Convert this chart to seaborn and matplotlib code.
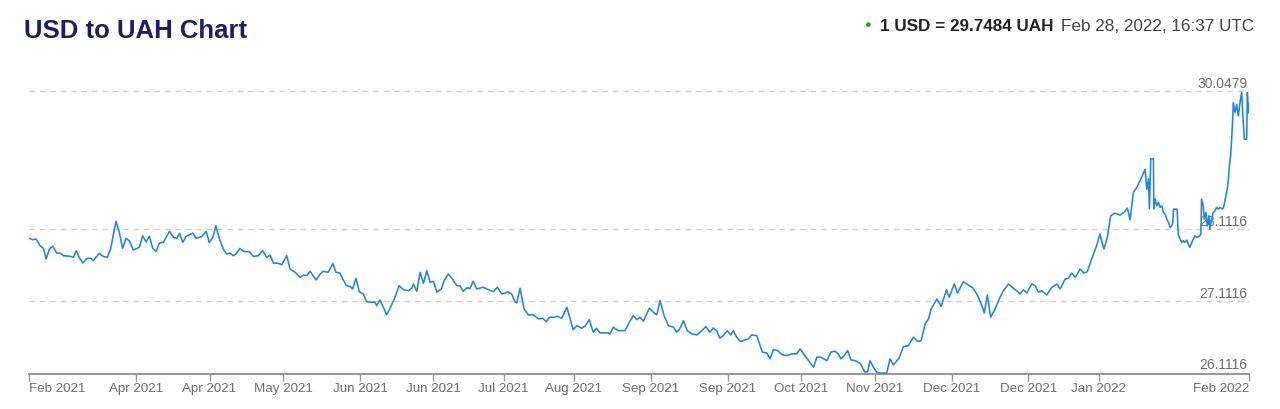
import pandas as pd
import matplotlib.pyplot as plt
import seaborn as sns

# USD -> UAH, one year of quotes (day offset from 2021-02-28, rate)
start = pd.Timestamp('2021-02-28')
days = [0.1, 1.1, 2.1, 3.3, 4.3, 5.1, 6.1, 7.1, 8.3, 9.3, 10.3, 12.3, 13.3, 14.1, 15.0, 16.1, 17.3, 18.5, 19.2,
        21.0, 22.2, 23.4, 24.4, 26.0, 27.0, 28.0, 29.0, 30.0, 31.2, 33.0, 34.0, 35.0, 36.0, 37.0, 38.0, 39.0,
        40.2, 42.0, 43.2, 44.2, 45.0, 46.0, 47.0, 49.0, 50.0, 51.7, 53.0, 53.9, 55.0, 55.9, 56.9, 58.1, 59.1,
        60.1, 61.1, 61.9, 63.1, 64.1, 65.9, 67.1, 68.6, 69.9, 71.1, 72.1,
        73.1, 74.6, 75.6, 77.1, 78.1, 79.6, 81.1, 82.1, 83.1, 84.1, 85.1, 85.9, 87.1, 88.0, 89.5, 90.9, 91.8,
        93.0, 94.0, 95.0, 96.0, 96.8, 97.8, 98.8, 100.0, 101.0, 102.5, 103.5, 104.0, 105.0, 106.0, 107.0,
        108.0, 109.3, 110.7, 112.0, 113.5, 114.5, 115.0, 116.0, 117.0, 118.0, 119.0, 120.0, 121.0, 122.0,
        123.3, 124.2, 125.4, 126.5, 128.0, 128.9, 129.9, 130.9, 131.9, 132.9, 133.9, 135.9, 137.4, 138.9,
        140.1, 141.4, 142.4, 143.2, 144.4, 145.4,
        145.9, 146.9, 148.1, 149.4, 150.9, 152.4, 153.7, 154.7, 155.7, 157.1, 157.9, 159.4, 160.9, 161.9,
        162.8, 163.9, 165.4, 166.3, 167.6, 168.8, 169.8, 170.8, 173.3, 173.8, 174.8, 176.3, 178.3, 179.6,
        180.8, 181.8, 182.8, 183.8, 185.6, 186.6, 187.8, 188.8, 190.0, 191.3, 192.8, 193.8, 194.8, 195.8,
        196.9, 198.3, 199.8, 201.3, 202.5, 203.7, 204.7, 205.7, 206.7, 207.7, 208.9, 209.9, 210.7, 211.7,
        212.9, 214.2, 215.2, 216.2, 217.7,
        219.4, 220.7, 221.7, 222.7, 224.0, 225.2, 226.7, 228.2, 229.7, 230.7, 231.7, 233.2, 234.7, 235.7,
        236.9, 238.7, 239.9, 241.1, 242.1, 242.9, 243.9, 244.9, 245.9, 247.1, 248.6, 250.1, 250.9, 251.6,
        252.6, 253.6, 254.6, 256.6, 257.6, 258.6, 260.3, 261.6, 263.1, 264.6, 265.9, 266.9, 268.1, 269.1,
        269.9, 271.6, 272.9, 274.5, 275.3, 276.8, 277.8, 279.5, 281.0, 282.5, 283.8, 285.0, 285.8, 286.7,
        287.7, 289.0, 290.5,
        291.5, 293.0, 294.5, 295.5, 296.5, 297.5, 298.5, 300.0, 301.0, 302.0, 303.0, 304.5, 306.0, 307.5,
        308.5, 310.0, 311.0, 312.0, 313.0, 314.5, 315.5, 316.6, 317.9, 319.4, 320.4, 321.6, 322.6, 323.6,
        324.9, 326.4, 327.6, 328.6, 329.4, 330.4, 331.4, 332.6, 333.9, 334.4, 334.9, 335.2, 335.6, 336.4,
        336.5, 336.9, 337.4, 337.9, 338.4, 338.9, 339.4, 339.9, 340.4, 340.9, 341.4, 341.9, 342.2, 342.4,
        343.5, 343.7, 343.8, 344.4, 344.9, 345.3, 345.8, 346.4, 346.8, 347.3, 347.9, 348.3, 348.8, 349.3,
        350.1, 350.6, 350.8, 351.3, 351.6, 352.1, 352.5, 353.0, 353.3, 353.8, 354.3, 354.8, 355.3, 355.8,
        356.3, 357.1, 357.5, 358.1, 358.5, 358.9, 359.1, 359.5, 359.8, 360.1, 360.3, 360.8, 361.3, 361.8,
        362.3, 362.8, 363.1, 363.6, 364.3, 364.5, 364.8, 364.95, 365.0]
rates = [27.986, 27.966, 27.976, 27.882, 27.846, 27.696, 27.836, 27.874, 27.780, 27.780, 27.742, 27.734, 27.720,
         27.812, 27.720, 27.640, 27.706, 27.706, 27.672, 27.776, 27.734, 27.720, 27.836, 28.224, 28.070, 27.846,
         27.986, 27.952, 27.822, 27.860, 28.022, 27.938, 28.014, 27.846, 27.804, 27.920, 27.930, 28.084, 28.000,
         27.986, 28.056, 27.930, 28.014, 28.060, 27.986, 28.014, 28.084, 27.930, 28.000, 28.162, 27.986, 27.836,
         27.766, 27.780, 27.742, 27.766, 27.846, 27.804, 27.798, 27.734, 27.742, 27.812, 27.720, 27.752,
         27.640, 27.636, 27.616, 27.742, 27.556, 27.510, 27.440, 27.472, 27.462, 27.524, 27.454, 27.402, 27.486,
         27.524, 27.510, 27.636, 27.510, 27.500, 27.402, 27.322, 27.314, 27.276, 27.426, 27.238, 27.206, 27.098,
         27.090, 27.090, 27.042, 27.122, 27.020, 26.916, 27.006, 27.136, 27.322, 27.266, 27.252, 27.286, 27.346,
         27.244, 27.510, 27.356, 27.532, 27.370, 27.384, 27.230, 27.276, 27.392, 27.486, 27.426, 27.322, 27.322,
         27.244, 27.290, 27.286, 27.384, 27.276, 27.300, 27.266, 27.238, 27.300, 27.206, 27.216, 27.238, 27.206,
         27.098,
         27.080, 27.286, 26.996, 26.912, 26.912, 26.856, 26.866, 26.818, 26.880, 26.880, 26.894, 26.866, 27.020,
         26.856, 26.706, 26.762, 26.726, 26.754, 26.846, 26.670, 26.726, 26.660, 26.660, 26.646, 26.740, 26.692,
         26.692, 26.810, 26.902, 26.846, 26.880, 26.824, 27.006, 26.958, 26.912, 27.112, 26.902, 26.762, 26.740,
         26.670, 26.726, 26.832, 26.692, 26.646, 26.632, 26.692, 26.748, 26.670, 26.730, 26.692, 26.586, 26.622,
         26.692, 26.632, 26.692, 26.600, 26.538, 26.562, 26.576, 26.632, 26.622,
         26.390, 26.380, 26.296, 26.426, 26.412, 26.356, 26.342, 26.366, 26.366, 26.436, 26.366, 26.272, 26.180,
         26.320, 26.320, 26.272, 26.390, 26.404, 26.366, 26.296, 26.342, 26.412, 26.282, 26.272, 26.236, 26.110,
         26.118, 26.272, 26.180, 26.110, 26.096, 26.096, 26.296, 26.212, 26.306, 26.468, 26.482, 26.600, 26.538,
         26.552, 26.786, 26.856, 26.996, 27.136, 27.034, 27.266, 27.160, 27.346, 27.220, 27.378, 27.332, 27.286,
         27.182, 27.052, 26.940, 27.192, 26.880, 26.996, 27.160,
         27.252, 27.346, 27.286, 27.252, 27.206, 27.266, 27.220, 27.346, 27.322, 27.230, 27.252, 27.192, 27.300,
         27.346, 27.276, 27.416, 27.426, 27.500, 27.440, 27.556, 27.500, 27.518, 27.696, 27.882, 28.046, 27.836,
         28.000, 28.302, 28.340, 28.312, 28.350, 28.410, 28.246, 28.630, 28.700, 28.816, 28.956, 28.676, 28.820,
         28.400, 29.100, 29.100, 28.400, 28.540, 28.442, 28.490, 28.420, 28.442, 28.350, 28.326, 28.256, 28.210,
         28.140, 28.162, 28.210, 28.396, 28.396, 28.162, 28.046, 27.976, 27.930, 27.952, 27.930, 27.962, 27.906,
         27.860, 27.930, 27.976, 28.022, 28.000, 28.014, 28.046, 28.536, 28.442, 28.256, 28.350, 28.162, 28.302,
         28.116, 28.256, 28.350, 28.372, 28.420, 28.396, 28.420, 28.396, 28.442, 28.582, 28.676, 28.862, 29.002,
         29.142, 29.376, 29.656, 29.890, 29.750, 29.866, 29.702, 29.890, 30.030, 29.750, 29.376, 29.376, 30.030,
         29.750, 29.866, 29.748]

tick_dates = ['2021-02-28', '2021-04-01', '2021-04-23', '2021-05-15', '2021-06-07', '2021-06-29', '2021-07-20',
              '2021-08-10', '2021-09-02', '2021-09-25', '2021-10-17', '2021-11-08', '2021-12-01', '2021-12-24',
              '2022-01-14', '2022-02-28']
tick_labels = ['Feb 2021', 'Apr 2021', 'Apr 2021', 'May 2021', 'Jun 2021', 'Jun 2021', 'Jul 2021', 'Aug 2021',
               'Sep 2021', 'Sep 2021', 'Oct 2021', 'Nov 2021', 'Dec 2021', 'Dec 2021', 'Jan 2022', 'Feb 2022']
levels = [30.0479, 28.1116, 27.1116, 26.1116]

df = pd.DataFrame({'date': start + pd.to_timedelta(days, unit='D'), 'rate': rates})

sns.set_theme(style='white')
plt.rcParams['font.family'] = ['Liberation Sans', 'DejaVu Sans']

fig = plt.figure(figsize=(12.8, 4.1), dpi=100)
ax = fig.add_axes([0.0227, 0.0854, 0.9531, 0.6919])

sns.lineplot(data=df, x='date', y='rate', ax=ax, color='#2284e6', lw=1.15,
             estimator=None, sort=False, zorder=3)

ax.set_xlim(start, start + pd.Timedelta(days=365))
ax.set_ylim(26.084, 30.062)

for v in levels[:-1]:
    ax.axhline(v, color='#cfcfcf', lw=1, ls=(0, (4, 3.5)), zorder=1)
for v in levels:
    ax.annotate(f'{v:.4f}', xy=(1.0, v), xycoords=ax.get_yaxis_transform(), xytext=(-1, 3),
                textcoords='offset points', ha='right', va='baseline', fontsize=10, color='#6e6e6e', zorder=2)

ax.set_xticks(pd.to_datetime(tick_dates))
ax.set_xticklabels(tick_labels)
labs = ax.get_xticklabels()
labs[0].set_ha('left')
labs[-1].set_ha('right')
ax.tick_params(axis='x', bottom=True, length=5, width=1, color='#999999', labelcolor='#6e6e6e',
               labelsize=9.6, pad=1)
ax.set_yticks([])
ax.set_xlabel('')
ax.set_ylabel('')
for s in ['left', 'right', 'top']:
    ax.spines[s].set_visible(False)
ax.spines['bottom'].set_color('#999999')
ax.spines['bottom'].set_linewidth(1.5)

fig.text(24 / 1280, 1 - 38 / 410, 'USD to UAH Chart', fontsize=18.5, fontweight='bold', color='#1c1c6c',
         ha='left', va='baseline')
fig.text(867 / 1280, 1 - 25 / 410, '●', fontsize=8, color='#2ca02c', ha='center', va='center')
fig.text(880 / 1280, 1 - 31 / 410, '1 USD = 29.7484 UAH', fontsize=12.3, fontweight='bold', color='#222222',
         ha='left', va='baseline')
fig.text(1254 / 1280, 1 - 31 / 410, 'Feb 28, 2022, 16:37 UTC', fontsize=12.3, color='#444444',
         ha='right', va='baseline')

fig.savefig('out.png', dpi=100)
